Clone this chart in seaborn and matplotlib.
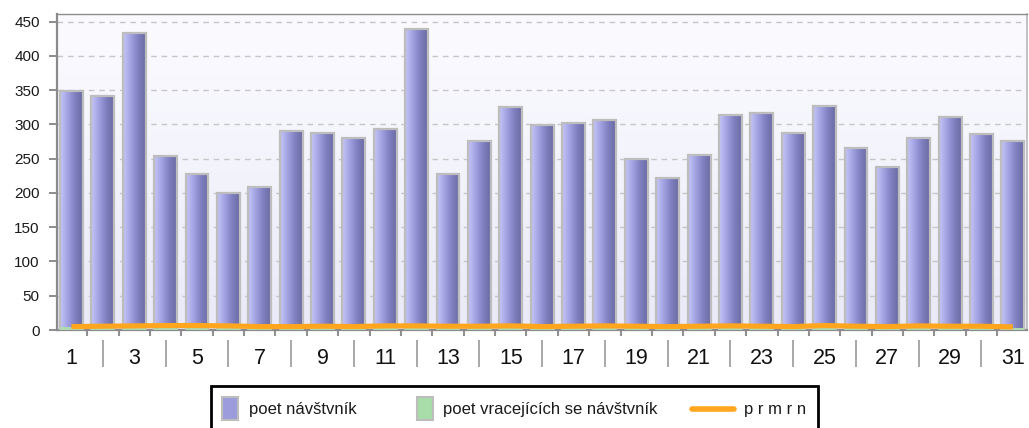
import numpy as np
import pandas as pd
import matplotlib
matplotlib.use("Agg")
import matplotlib.pyplot as plt
import matplotlib.transforms as mtransforms
from matplotlib.colors import LinearSegmentedColormap
from matplotlib.patches import Rectangle
from matplotlib.lines import Line2D
from matplotlib.legend_handler import HandlerLine2D
import seaborn as sns

# ---------------- data ----------------
days = [str(d) for d in range(1, 32)]
visitors = [348, 342, 434, 254, 227, 200, 209, 291, 287, 280, 293, 439, 228, 275, 325,
            299, 302, 306, 249, 222, 256, 314, 316, 287, 327, 266, 238, 280, 311, 286, 275]
returning = [4, 3, 4, 3, 3, 3, 3, 4, 3, 3, 4, 4, 3, 3, 4, 3, 3, 4, 3, 3, 3, 4, 3, 3, 4, 3, 3, 4, 3, 3, 3]
average = [5, 5.5, 6, 6.5, 6.5, 6, 5, 5, 5.5, 5, 6, 6, 5.5, 5.5, 6, 5,
           5.5, 6, 5.5, 5, 5.5, 6, 5.5, 5, 6.5, 5.5, 5, 6, 5.5, 5.5, 4.5]
y_ticks = [0, 50, 100, 150, 200, 250, 300, 350, 400, 450]
series_names = ["poet návštvník", "poet vracejících se návštvník", "p r m r n"]

df = pd.DataFrame({"day": days, "visitors": visitors, "returning": returning, "average": average})

sns.set_theme(style="white")
plt.rcParams["font.family"] = ["Liberation Sans", "DejaVu Sans"]

W, H = 1029, 428
fig = plt.figure(figsize=(W / 100, H / 100), dpi=100)
fig.patch.set_facecolor("white")
ax = fig.add_axes([57 / W, 1 - 330 / H, (1027 - 57) / W, (330 - 14) / H])

# background gradient
bg = np.linspace(0, 1, 256).reshape(-1, 1)
cmap_bg = LinearSegmentedColormap.from_list("bg", ["#eaeaf8", "#f3f3fc", "#fbfbff"])
ax.imshow(bg, cmap=cmap_bg, extent=[0, 1, 0, 1], transform=ax.transAxes,
          aspect="auto", origin="lower", zorder=-2, interpolation="bilinear")

# bars
sns.barplot(data=df, x="day", y="visitors", color="#9c9cdc", width=0.73,
            edgecolor="#bdbdbd", linewidth=1.6, ax=ax, zorder=3)
n_v = len(ax.patches)
sns.barplot(data=df, x="day", y="returning", color="#a8e0a8", width=0.73,
            edgecolor="none", linewidth=0, ax=ax, zorder=4)

# gradient fill for purple bars
cmap_v = LinearSegmentedColormap.from_list("v", ["#c6c6f8", "#a2a2e2", "#8080c0", "#6a6aa4"])
grad = np.linspace(0, 1, 64).reshape(1, -1)
for p in ax.patches[:n_v]:
    x0, y0, w, h = p.get_x(), p.get_y(), p.get_width(), p.get_height()
    im = ax.imshow(grad, cmap=cmap_v, extent=[x0, x0 + w, y0, y0 + h],
                   aspect="auto", zorder=2.9, interpolation="bilinear")
    im.set_clip_path(p)
    p.set_facecolor("none")

# average line
sns.lineplot(x=np.arange(len(days)), y=average, color="#ffa51e", linewidth=3.7,
             ax=ax, zorder=5, solid_capstyle="butt")

ax.set_xlim(-0.46, len(days) - 1 + 0.45)
ax.set_ylim(0, 461)
ax.set_aspect("auto")
ax.set_xlabel("")
ax.set_ylabel("")

# grid
ax.set_yticks(y_ticks)
ax.yaxis.grid(True, linestyle=(0, (4, 3.5)), color="#c6c6c6", linewidth=1.0)
ax.xaxis.grid(False)
ax.set_axisbelow(True)

# y ticks
ax.tick_params(axis="y", which="major", direction="out", length=5.5, width=1.4,
               color="#8c8c8c", pad=7, labelsize=11, labelcolor="#1a1a1a", left=True)

# x ticks: labels on odd days
pos = np.arange(len(days))
ax.set_xticks(pos[::2])
ax.set_xticklabels(days[::2])
ax.tick_params(axis="x", which="major", length=0, pad=13, labelsize=15.5, labelcolor="#111111")
ax.set_xticks(pos[:-1] + 0.5, minor=True)
ax.tick_params(axis="x", which="minor", direction="out", length=4, width=1.5,
               color="#909090", bottom=True)

# separators between labels
trans = mtransforms.blended_transform_factory(ax.transData, ax.transAxes)
ax.vlines(pos[1::2], -0.031, -0.117, transform=trans, clip_on=False,
          color="#a8a8a8", linewidth=1.4)

# spines
for s in ["left", "bottom"]:
    ax.spines[s].set_color("#8a8a8a")
    ax.spines[s].set_linewidth(1.6)
ax.spines["top"].set_color("#8c8c8c")
ax.spines["top"].set_linewidth(1.0)
ax.spines["right"].set_color("#b8b8b8")
ax.spines["right"].set_linewidth(1.2)


# legend
class LongLineHandler(HandlerLine2D):
    def create_artists(self, legend, orig_handle, xdescent, ydescent, width, height, fontsize, trans):
        extra = width * 1.6
        yc = height / 2.0 - ydescent
        ln = Line2D([-xdescent - extra, -xdescent + width], [yc, yc])
        ln.update_from(orig_handle)
        ln.set_transform(trans)
        return [ln]


h1 = Rectangle((0, 0), 1, 1, facecolor="#9c9cdc", edgecolor="#bdbdbd", linewidth=1.5)
h2 = Rectangle((0, 0), 1, 1, facecolor="#a8dca8", edgecolor="#bdbdbd", linewidth=1.5)
h3 = Line2D([], [], color="#ffa51e", linewidth=4)
leg = fig.legend([h1, h2, h3], series_names, loc="upper center",
                 bbox_to_anchor=(0.5, 1 - 386 / H), ncol=3, fontsize=12,
                 frameon=True, fancybox=False, framealpha=1, edgecolor="black",
                 handlelength=0.95, handleheight=1.7, handletextpad=0.65,
                 columnspacing=3.6, borderpad=0.68, borderaxespad=0,
                 handler_map={Line2D: LongLineHandler()})
leg.get_frame().set_linewidth(2.0)
for t in leg.get_texts():
    t.set_color("#1a1a1a")

fig.savefig("out.png", dpi=100)
